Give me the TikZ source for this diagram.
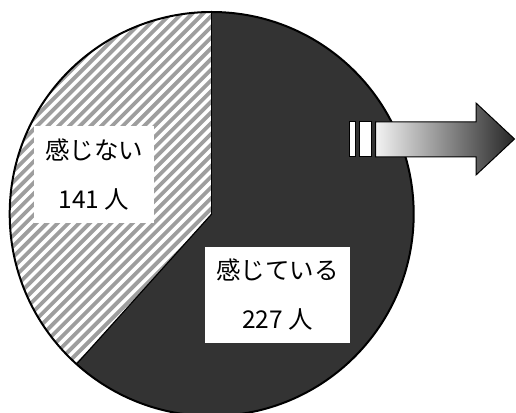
\documentclass[tikz,border=0pt]{standalone}
\usepackage{fontspec}
\setmainfont{Noto Sans CJK JP}
\usetikzlibrary{positioning}
\definecolor{piedark}{HTML}{333333}
\tikzset{
  labelbox/.style={fill=white, align=center, inner sep=0pt, font=\fontsize{24.5}{49}\selectfont},
  hatchline/.style={black!38, line width=3.8pt},
  barbox/.style={fill=white, draw=black, line width=1pt},
}

\begin{document}
\begin{tikzpicture}[x=1pt,y=1pt]
  \useasboundingbox (0,0) rectangle (516,412);
  \coordinate (o) at (211.7,198);
  % pie
  \fill[piedark] (o) circle (202);
  \fill[white] (o) -- ++(90:202) arc (90:228:202) -- cycle;
  \begin{scope}
    \clip (o) -- ++(90:202) arc (90:228:202) -- cycle;
    \foreach \c in {-40,-29.3,...,300}
      \draw[hatchline] (0,\c) -- ++(450,450);
  \end{scope}
  \draw[line width=1.2pt] (o) -- ++(90:202);
  \draw[line width=1.2pt] (o) -- ++(228:202);
  \draw[line width=2pt] (o) circle (202);
  % labels
  \node[labelbox, minimum width=120, minimum height=97] (no) at (94,237.5) {感じない\\141 人};
  \node[labelbox, minimum width=145, minimum height=96] (yes) at (277.5,117) {感じている\\227 人};
  % arrow
  \draw[barbox] (349,255) rectangle (355,290);
  \draw[barbox] (359.3,255) rectangle (371.7,290);
  \draw[line width=1pt, left color=white!95!black, right color=black!85]
    (375.7,255) -- (476,255) -- (476,237) -- (514.5,273) -- (476,309) -- (476,290) -- (375.7,290) -- cycle;
\end{tikzpicture}
\end{document}
